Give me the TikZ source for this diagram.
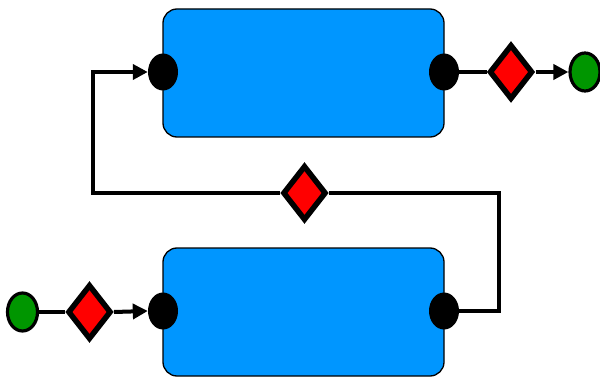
\documentclass[tikz,border=0pt]{standalone}
\usetikzlibrary{shapes.geometric,arrows.meta}
\definecolor{taskblue}{RGB}{0,150,255}
\definecolor{gatered}{RGB}{255,0,0}
\definecolor{eventgreen}{RGB}{0,150,0}
\begin{document}
\begin{tikzpicture}[x=1pt,y=-1pt,
  task/.style={draw=black,line width=1.3pt,fill=taskblue,rounded corners=14pt,
    minimum width=281pt,minimum height=128pt,inner sep=0pt},
  port/.style={ellipse,fill=black,draw=none,minimum width=30pt,minimum height=37pt,inner sep=0pt},
  gate/.style={diamond,draw=black,line width=5.5pt,fill=gatered,minimum width=43.5pt,
    minimum height=55pt,inner sep=0pt},
  event/.style={ellipse,draw=black,line width=3.2pt,fill=eventgreen,minimum width=30pt,
    minimum height=38pt,inner sep=0pt},
  flow/.style={draw=black,line width=4pt},
  tip/.style={-{Triangle[length=15pt,width=15pt]}}]
\useasboundingbox (0,0) rectangle (600,377);

% bends of the feedback flow
\coordinate (rt) at (499,193);
\coordinate (lt) at (93,193);

% tasks
\node[task] (topTask) at (303.5,73) {};
\node[task] (botTask) at (303.5,312) {};

% ports on the task edges
\node[port] (pTL) at (163,72) {};
\node[port] (pTR) at (444,72) {};
\node[port] (pBL) at (163,311) {};
\node[port] (pBR) at (444,311) {};

% gateways and events
\node[gate] (gTR) at (511,72) {};
\node[event] (eEnd) at (585,72) {};
\node[gate] (gM) at (304.5,193) {};
\node[gate] (gBL) at (89.5,312) {};
\node[event] (eStart) at (22.5,312) {};

% flows
\draw[flow] (pTR.east) -- (gTR.west);
\draw[flow,tip] (gTR.east) -- (eEnd.west);
\draw[flow] (eStart.east) -- (gBL.west);
\draw[flow,tip] (gBL.east) -- (pBL.west);
\draw[flow] (pBR.east) -| (rt) -- (gM.east);
\draw[flow,tip] (gM.west) -- (lt) |- (pTL.west);
\end{tikzpicture}
\end{document}
